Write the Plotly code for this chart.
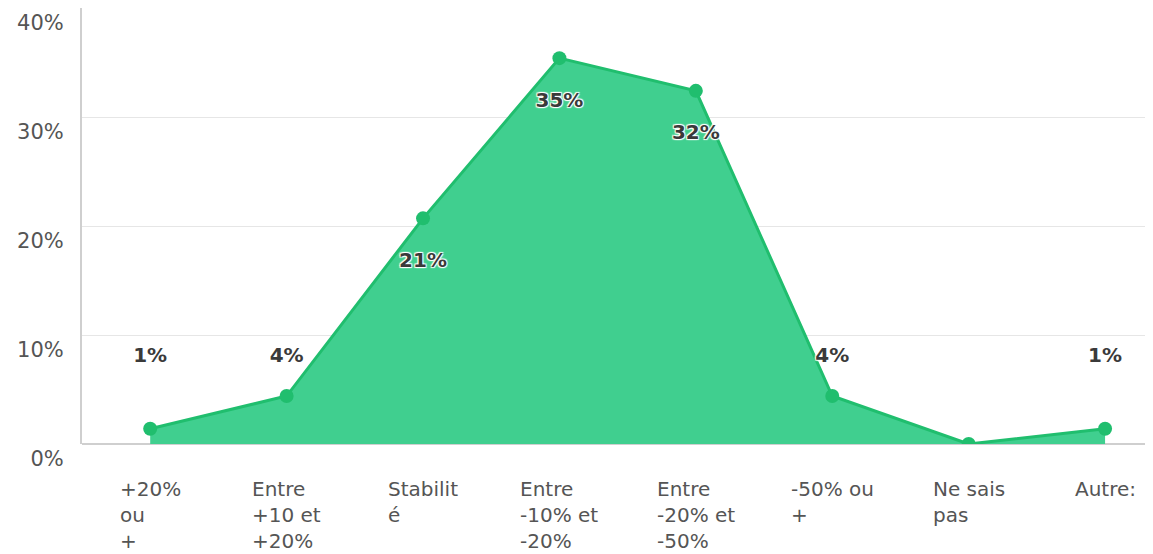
import plotly.graph_objects as go

categories = ["+20%<br>ou<br>+", "Entre<br>+10 et<br>+20%", "Stabilit<br>é", "Entre<br>-10% et<br>-20%",
              "Entre<br>-20% et<br>-50%", "-50% ou<br>+", "Ne sais<br>pas", "Autre:"]
values = [1.4, 4.4, 20.7, 35.4, 32.4, 4.4, 0.0, 1.4]
y_ticks = [0, 10, 20, 30, 40]
y_tick_text = ["0%", "10%", "20%", "30%", "40%"]

labels = [f"{round(v)}%" if v > 0 else "" for v in values]
label_y = [v - 4 if v - 4 > 8 else 8 for v in values]

x = list(range(len(categories)))

fig = go.Figure()
fig.add_trace(go.Scatter(
    x=x, y=values, mode="lines+markers", fill="tozeroy",
    fillcolor="rgb(64,207,143)",
    line=dict(color="rgb(32,190,110)", width=3),
    marker=dict(color="rgb(32,190,110)", size=14),
    hoverinfo="skip", showlegend=False,
))
fig.add_trace(go.Scatter(
    x=x, y=label_y, mode="text", text=labels,
    textposition="middle center",
    textfont=dict(family="DejaVu Sans", size=20, color="#3a3a3a", weight=600,
                  shadow="1px 1px 1px #fff, -1px -1px 1px #fff, 1px -1px 1px #fff, -1px 1px 1px #fff"),
    hoverinfo="skip", showlegend=False,
))

# category labels under the axis, lines left-aligned within each centred block
for xi, cat in zip(x, categories):
    fig.add_annotation(
        x=xi, y=0, xref="x", yref="paper", text=cat, showarrow=False,
        xanchor="center", yanchor="top", align="left", yshift=-31,
        font=dict(family="DejaVu Sans", size=20, color="#555"),
    )

fig.update_layout(
    width=1153, height=554,
    margin=dict(l=74, r=0, t=0, b=118),
    paper_bgcolor="white", plot_bgcolor="white",
    font=dict(family="DejaVu Sans", color="#555", size=18),
)
fig.update_xaxes(
    range=[-0.5, 7.41], tickvals=x, showticklabels=False,
    showgrid=False, zeroline=False, showline=False, ticks="",
    automargin=False,
)
fig.update_yaxes(
    range=[0, 40], tickvals=y_ticks, ticktext=y_tick_text,
    showgrid=True, gridcolor="#e6e6e6", gridwidth=1,
    zeroline=True, zerolinecolor="#cfcfcf", zerolinewidth=2,
    showline=True, linecolor="#cfcfcf", linewidth=2,
    ticks="", ticklabelposition="outside bottom", ticklabelstandoff=12,
    tickfont=dict(size=21, color="#555"), automargin=False,
)

fig.write_html("out.html")
